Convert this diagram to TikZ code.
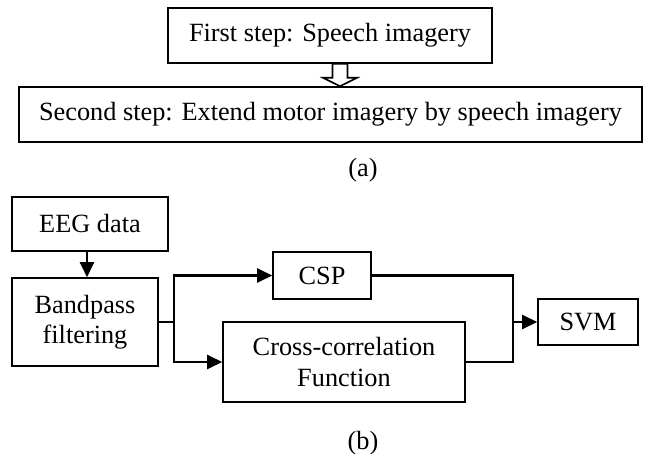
\documentclass[tikz,border=0pt]{standalone}
\usepackage{fontspec}
\setmainfont{Liberation Serif}
\usetikzlibrary{arrows.meta,calc}

\tikzset{
  box/.style={draw, line width=1.6pt, inner sep=0pt, align=center,
              font=\fontsize{26.3}{30.5}\selectfont},
  lbl/.style={inner sep=0pt, font=\fontsize{26.3}{30.5}\selectfont},
  flow/.style={line width=2.4pt, -{Triangle[length=15pt,width=14pt]}},
  wire/.style={line width=2.4pt},
}

\begin{document}
\begin{tikzpicture}[x=1pt,y=-1pt]
  \useasboundingbox (0,0) rectangle (647,454);

  % (a) two-step scheme
  \node[box, minimum width=324pt, minimum height=55pt] (s1) at (330,35.5) {First step: Speech imagery};
  \node[box, minimum width=623pt, minimum height=55pt] (s2) at (330.5,114.5) {Second step: Extend motor imagery by speech imagery};
  \node[lbl] (capa) at (363,170) {(a)};

  % hollow arrow between the two steps
  \coordinate (ha) at (340,0);
  \draw[line width=1.6pt, fill=white]
    ($(ha |- s1.south)+(-7.5,0)$) -- ($(ha |- s1.south)+(7.5,0)$)
    -- ($(ha |- s1.south)+(7.5,14)$) -- ($(ha |- s1.south)+(17,14)$)
    -- (ha |- s2.north) -- ($(ha |- s1.south)+(-17,14)$)
    -- ($(ha |- s1.south)+(-7.5,14)$) -- cycle;

  % (b) processing pipeline
  \node[box, minimum width=156pt, minimum height=54pt] (eeg) at (90,224) {EEG data};
  \node[box, minimum width=146pt, minimum height=88pt] (bp) at (85,322) {Bandpass\\filtering};
  \node[box, minimum width=98pt, minimum height=47pt] (csp) at (322,275.5) {CSP};
  \node[box, minimum width=242pt, minimum height=80pt] (ccf) at (344,362) {Cross-correlation\\Function};
  \node[box, minimum width=100pt, minimum height=46pt] (svm) at (588,322) {SVM};
  \node[lbl] (capb) at (363,443) {(b)};

  \coordinate (drop) at (87,0);
  \coordinate (split) at (174,322);
  \coordinate (merge) at (513,322);

  \draw[flow] (drop |- eeg.south) -- (drop |- bp.north);
  \draw[wire] (bp.east) -- (split);
  \draw[flow] (split) |- (csp.west);
  \draw[flow] (split) |- (ccf.west);
  \draw[wire] (csp.east) -| (merge);
  \draw[wire] (ccf.east) -| (merge);
  \draw[flow] (merge) -- (svm.west);
\end{tikzpicture}
\end{document}
